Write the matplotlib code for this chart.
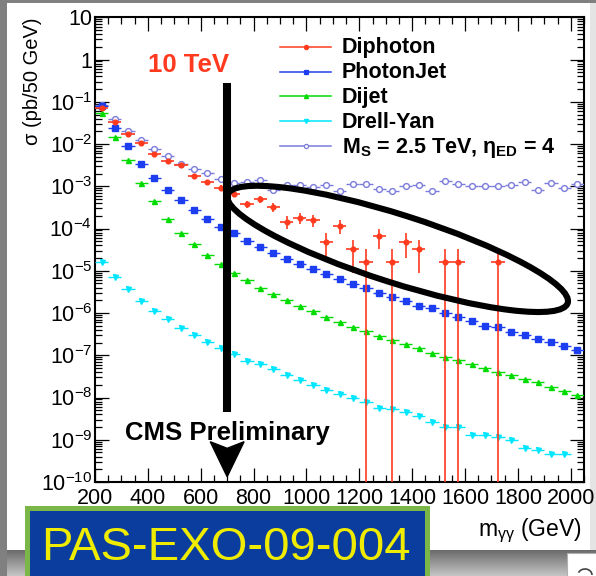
import numpy as np
import matplotlib
matplotlib.use('Agg')
import matplotlib.pyplot as plt
from matplotlib.patches import Ellipse, Polygon, Rectangle, Arc
from matplotlib.ticker import MultipleLocator, LogLocator, FuncFormatter, NullFormatter
from matplotlib.transforms import blended_transform_factory

plt.rcParams['font.family'] = ['Liberation Sans', 'DejaVu Sans']
plt.rcParams['mathtext.fontset'] = 'custom'
plt.rcParams['mathtext.rm'] = 'Liberation Sans'
plt.rcParams['mathtext.it'] = 'Liberation Sans:italic'
plt.rcParams['mathtext.bf'] = 'Liberation Sans:bold'

W, H = 596, 576

# bin centres of the 50 GeV mass bins
mass = [225, 275, 325, 375, 425, 475, 525, 575, 625, 675, 725, 775, 825, 875,
        925, 975, 1025, 1075, 1125, 1175, 1225, 1275, 1325, 1375, 1425, 1475,
        1525, 1575, 1625, 1675, 1725, 1775, 1825, 1875, 1925, 1975, 2025]
half_bin = 25

# ADD signal, Ms = 2.5 TeV, nED = 4
signal = [8.4e-2, 3.85e-2, 2.04e-2, 1.23e-2, 7.8e-3, 5.2e-3, 3.3e-3, 2.52e-3,
          2.1e-3, 1.51e-3, 1.22e-3, 1.29e-3, 1.38e-3, 8.1e-4, 1.07e-3, 1.07e-3,
          9.6e-4, 1.05e-3, 7.9e-4, 1.12e-3, 1.12e-3, 8.6e-4, 7.7e-4, 1.02e-3,
          1.05e-3, 7.7e-4, 1.33e-3, 1.15e-3, 1.03e-3, 1.03e-3, 1.03e-3, 1.06e-3,
          1.29e-3, 8.2e-4, 1.18e-3, 9.3e-4, 1.11e-3]

photonjet = [7.9e-2, 2.4e-2, 9.0e-3, 3.43e-3, 1.6e-3, 8.2e-4, 4.74e-4, 2.8e-4,
             1.68e-4, 1.11e-4, 7.7e-5, 5.15e-5, 3.6e-5, 2.68e-5, 1.93e-5, 1.45e-5,
             1.08e-5, 8.3e-6, 6.3e-6, 4.95e-6, 3.92e-6, 2.99e-6, 2.36e-6, 1.96e-6,
             1.49e-6, 1.29e-6, 9.9e-7, 8.2e-7, 6.5e-7, 5.0e-7, 4.6e-7, 3.62e-7,
             2.97e-7, 2.47e-7, 2.07e-7, 1.69e-7, 1.33e-7]

dijet = [5.3e-2, 1.49e-2, 4.2e-3, 1.2e-3, 4.4e-4, 1.71e-4, 8.0e-5, 4.24e-5,
         2.33e-5, 1.43e-5, 9.0e-6, 5.96e-6, 3.92e-6, 2.87e-6, 2.04e-6, 1.49e-6,
         1.12e-6, 8.2e-7, 6.2e-7, 4.75e-7, 3.76e-7, 2.91e-7, 2.34e-7, 1.85e-7,
         1.47e-7, 1.15e-7, 9.3e-8, 7.9e-8, 6.3e-8, 5.1e-8, 4.0e-8, 3.4e-8,
         2.7e-8, 2.37e-8, 1.78e-8, 1.45e-8, 1.15e-8]

# Drell-Yan has no entry in the last bin
dy_mass = mass[:-1]
drellyan = [1.64e-5, 7.2e-6, 3.65e-6, 1.9e-6, 1.14e-6, 7.1e-7, 4.4e-7, 3.05e-7,
            2.03e-7, 1.48e-7, 1.07e-7, 7.4e-8, 6.3e-8, 4.67e-8, 3.42e-8, 2.63e-8,
            1.98e-8, 1.53e-8, 1.19e-8, 9.7e-9, 7.9e-9, 5.75e-9, 5.4e-9, 4.55e-9,
            3.6e-9, 2.64e-9, 2.04e-9, 2.04e-9, 1.32e-9, 1.32e-9, 1.15e-9, 1.0e-9,
            6.5e-10, 5.8e-10, 4.5e-10, 4.5e-10]

# diphoton MC, only non-empty bins
dipho_mass = [225, 275, 325, 375, 425, 475, 525, 575, 625, 675, 725, 775, 825,
              875, 925, 975, 1025, 1075, 1125, 1175, 1225, 1275, 1325, 1375,
              1425, 1525, 1575, 1725]
diphoton = [7.0e-2, 3.27e-2, 1.70e-2, 1.08e-2, 5.9e-3, 3.97e-3, 3.14e-3, 1.75e-3,
            1.26e-3, 9.3e-4, 6.5e-4, 3.8e-4, 5.0e-4, 3.24e-4, 1.45e-4, 1.82e-4,
            1.62e-4, 4.9e-5, 1.17e-4, 3.2e-5, 1.65e-5, 6.5e-5, 1.65e-5, 4.9e-5,
            3.2e-5, 1.65e-5, 1.65e-5, 1.65e-5]
diphoton_err = [1.07e-3, 7.3e-4, 5.3e-4, 4.2e-4, 3.1e-4, 2.55e-4, 2.27e-4, 1.69e-4,
                1.44e-4, 1.23e-4, 1.03e-4, 7.9e-5, 9.1e-5, 7.3e-5, 4.9e-5, 5.5e-5,
                5.2e-5, 2.84e-5, 4.4e-5, 2.29e-5, 1.65e-5, 3.26e-5, 1.65e-5, 2.84e-5,
                2.29e-5, 1.65e-5, 1.65e-5, 1.65e-5]

c_red = '#ff3a1e'
c_blue = '#1c3ef0'
c_green = '#00dc00'
c_cyan = '#00e6ff'
c_purple = '#7c7cdc'

fig = plt.figure(figsize=(W / 100, H / 100), dpi=100)
fig.patch.set_facecolor('#8c8c8c')

# slide background, pixel coordinates from the top left
bg_ax = fig.add_axes([0, 0, 1, 1], zorder=0)
bg_ax.set_xlim(0, W)
bg_ax.set_ylim(H, 0)
bg_ax.axis('off')
shade = np.full((H, W), 0.55)
rows = np.arange(H)
fade = np.clip((rows - 550) / 26.0, 0, 1)
shade[550:, :] = (0.42 + 0.36 * fade[550:])[:, None]
shade[:, :7] = 0.5
shade[:3, :] = 0.5
bg_ax.imshow(shade, cmap='gray', vmin=0, vmax=1, extent=(0, W, H, 0),
             aspect='auto', interpolation='bilinear')
bg_ax.add_patch(Rectangle((7, 3), 583, 547, fc='white', ec='none'))
bg_ax.add_patch(Rectangle((590, 3), 6, 547, fc='#e4e4e4', ec='none'))
bg_ax.add_patch(Rectangle((25, 506), 405, 80, fc='#7ab648', ec='none'))
bg_ax.add_patch(Rectangle((30, 511), 395, 80, fc='#0b3d9f', ec='none'))
bg_ax.text(41, 560, 'PAS-EXO-09-004', fontsize=34, color='#f0ec00', va='baseline')
bg_ax.add_patch(Rectangle((567, 553), 32, 30, fc='white', ec='#b0b0b0', lw=0.8))
bg_ax.add_patch(Arc((585, 575), 14, 12, theta1=200, theta2=360, color='#444444', lw=1.2))

ax = fig.add_axes([95 / W, (H - 482) / H, 489 / W, 464.7 / H], zorder=1)
ax.set_facecolor('white')
ax.set_yscale('log')
ax.set_xlim(200, 2050)
ax.set_ylim(1e-10, 10)

# backgrounds and signal
ax.errorbar(mass, signal, xerr=half_bin, fmt='o', color=c_purple, ms=4.2,
            mfc='white', mec=c_purple, mew=1.0, elinewidth=1.0, capsize=0, zorder=3)
ax.errorbar(mass, photonjet, xerr=half_bin, fmt='s', color=c_blue, ms=3.8,
            elinewidth=1.0, capsize=0, zorder=3)
ax.errorbar(mass, dijet, xerr=half_bin, fmt='^', color=c_green, ms=3.6,
            elinewidth=1.0, capsize=0, zorder=3)
ax.errorbar(dy_mass, drellyan, xerr=half_bin, fmt='v', color=c_cyan, ms=3.6,
            elinewidth=1.0, capsize=0, zorder=3)
ax.errorbar(dipho_mass, diphoton, xerr=half_bin, yerr=diphoton_err, fmt='o',
            color=c_red, ms=3.4, elinewidth=1.2, capsize=0, zorder=4)

# axis style
for side in ax.spines.values():
    side.set_linewidth(1.5)
ax.xaxis.set_major_locator(MultipleLocator(200))
ax.xaxis.set_minor_locator(MultipleLocator(50))
ax.yaxis.set_major_locator(LogLocator(base=10, numticks=20))
ax.yaxis.set_minor_locator(LogLocator(base=10, subs=np.arange(2, 10), numticks=20))
ax.yaxis.set_minor_formatter(NullFormatter())


def dec_label(v, pos):
    e = int(round(np.log10(v)))
    if e == 1:
        return '10'
    if e == 0:
        return '1'
    return r'$10^{%d}$' % e


ax.yaxis.set_major_formatter(FuncFormatter(dec_label))
ax.tick_params(which='both', direction='in', top=True, right=True, width=0.9)
ax.tick_params(which='major', length=10)
ax.tick_params(which='minor', length=5)
ax.tick_params(axis='x', which='major', labelsize=15.5, pad=4)
ax.tick_params(axis='y', which='major', labelsize=15.5, pad=2)

ax.set_ylabel('σ (pb/50 GeV)', fontsize=14.5, loc='top')
ax.yaxis.set_label_coords(-0.108, 1.0)
ax.set_xlabel(r'm$_{\mathrm{γγ}}$ (GeV)', fontsize=16.5, loc='right')
ax.xaxis.set_label_coords(0.996, -0.074)

# 700 GeV cut marker
ax.axvline(700, ymin=0.1513, ymax=0.8593, color='black', lw=5.8,
           solid_capstyle='butt', zorder=6)
mixed = blended_transform_factory(ax.transData, ax.transAxes)
ax.add_patch(Polygon([(636, 0.0867), (700, 0.0725), (764, 0.0867), (700, 0.0114)],
                     closed=True, fc='black', ec='black', transform=mixed,
                     zorder=6, clip_on=False))
ax.text(0.1922, 0.883, '10 TeV', transform=ax.transAxes, fontsize=18.5,
        fontweight='bold', color=c_red, ha='center', va='baseline')
ax.text(0.0613, 0.0904, 'CMS Preliminary', transform=ax.transAxes, fontsize=18.5,
        fontweight='bold', color='black', ha='left', va='baseline')

# legend
leg_names = ['Diphoton', 'PhotonJet', 'Dijet', 'Drell-Yan',
             r'M$_\mathbf{S}$ = 2.5 TeV, η$_\mathbf{ED}$ = 4']
leg_colors = [c_red, c_blue, c_green, c_cyan, c_purple]
leg_markers = ['o', 's', '^', 'v', 'o']
leg_fill = [c_red, c_blue, c_green, c_cyan, 'white']
for i, (name, col, mk, fc) in enumerate(zip(leg_names, leg_colors, leg_markers, leg_fill)):
    y = 0.9367 - i * 0.0534
    ax.plot([0.378, 0.483], [y, y], color=col, lw=1.1, transform=ax.transAxes,
            clip_on=False, zorder=7)
    ax.plot([0.431], [y], marker=mk, ms=3.0, color=col, mfc=fc, mec=col, mew=0.9,
            transform=ax.transAxes, clip_on=False, zorder=7)
    ax.text(0.505, y - 0.0145, name, transform=ax.transAxes, fontsize=15.5,
            fontweight='bold', va='baseline', ha='left', zorder=7)

# ellipse around the high-mass region
ov = fig.add_axes([0, 0, 1, 1], zorder=2)
ov.set_xlim(0, W)
ov.set_ylim(H, 0)
ov.axis('off')
ov.patch.set_alpha(0)
ov.add_patch(Ellipse((397.6, 248.9), 357, 68, angle=17.67, fc='none',
                     ec='black', lw=4.4))

fig.savefig('out.png', dpi=100)
